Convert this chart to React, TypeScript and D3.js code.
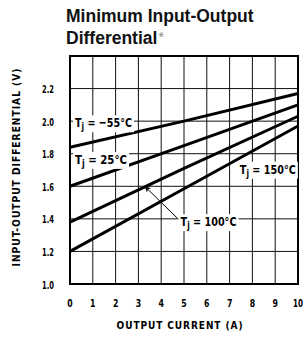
import { useEffect, useRef } from "react";
import * as d3 from "d3";

// Output current (A) sample points
const current = [0, 5, 10];

// Input-output differential (V) per junction temperature
const seriesM55 = [1.84, 2.0, 2.17];
const series25 = [1.6, 1.85, 2.1];
const series100 = [1.38, 1.71, 2.03];
const series150 = [1.2, 1.585, 1.97];

const xTicks = [0, 1, 2, 3, 4, 5, 6, 7, 8, 9, 10];
const yTicks = [1.0, 1.2, 1.4, 1.6, 1.8, 2.0, 2.2];

// curve labels: temperature, anchor current, anchor voltage, label width
const labels: { temp: string; x: number; y: number; w: number }[] = [
  { temp: "\u221255\u00b0C", x: 0.22, y: 1.99, w: 57 },
  { temp: "25\u00b0C", x: 0.22, y: 1.765, w: 52 },
  { temp: "150\u00b0C", x: 7.45, y: 1.705, w: 56 },
  { temp: "100\u00b0C", x: 4.85, y: 1.383, w: 56 },
];

const COND = "'DejaVu Sans Condensed', 'DejaVu Sans', sans-serif";

type Sel = d3.Selection<SVGGElement, unknown, null, undefined>;

// draw a text squeezed horizontally to a target width
function squeezed(
  parent: Sel,
  x: number,
  y: number,
  w: number,
  size: number,
  anchor: "start" | "middle" | "end",
  build: (t: d3.Selection<SVGTextElement, unknown, null, undefined>) => void,
  bg = false
) {
  const wrap = parent.append("g");
  const t = wrap
    .append("text")
    .attr("font-family", COND)
    .attr("font-weight", "bold")
    .attr("font-size", size)
    .attr("fill", "#000")
    .attr("text-anchor", anchor);
  build(t);
  const nat = (t.node() as SVGTextElement).getBBox();
  const sx = w / nat.width;
  wrap.attr("transform", `translate(${x},${y}) scale(${sx},1)`);
  if (bg) {
    wrap
      .insert("rect", "text")
      .attr("x", nat.x - 2 / sx)
      .attr("y", nat.y)
      .attr("width", nat.width + 4 / sx)
      .attr("height", nat.height)
      .attr("fill", "#fff");
  }
  return wrap;
}

export default function App() {
  const svgRef = useRef<SVGSVGElement>(null);

  useEffect(() => {
    if (!svgRef.current) return;
    const width = 304;
    const height = 337;
    const margin = { top: 56, right: 6, bottom: 53, left: 70 };

    const svg = d3.select(svgRef.current);
    svg.selectAll("*").remove();
    const root = svg.append("g") as unknown as Sel;

    const x = d3.scaleLinear().domain([0, 10]).range([margin.left, width - margin.right]);
    const y = d3.scaleLinear().domain([1.0, 2.4]).range([height - margin.bottom, margin.top]);

    // ── Title ──
    const title = root
      .append("text")
      .attr("x", 66)
      .attr("y", 22)
      .attr("font-family", "'Liberation Sans', Arial, sans-serif")
      .attr("font-weight", "bold")
      .attr("font-size", 17.5)
      .attr("fill", "#111");
    title.append("tspan").attr("x", 66).text("Minimum Input-Output");
    title.append("tspan").attr("x", 66).attr("dy", 21.5).text("Differential");
    title
      .append("tspan")
      .attr("fill", "#888")
      .attr("font-weight", "normal")
      .attr("font-size", 14)
      .attr("dx", 1)
      .attr("dy", -2)
      .text("*");

    // ── Grid ──
    const g = root.append("g") as unknown as Sel;
    g.selectAll(".vgrid")
      .data(xTicks.slice(1, -1))
      .enter()
      .append("line")
      .attr("x1", (d) => x(d))
      .attr("x2", (d) => x(d))
      .attr("y1", y(2.4))
      .attr("y2", y(1.0))
      .attr("stroke", "#111")
      .attr("stroke-width", 1);
    g.selectAll(".hgrid")
      .data(yTicks.slice(1))
      .enter()
      .append("line")
      .attr("x1", x(0))
      .attr("x2", x(10))
      .attr("y1", (d) => y(d))
      .attr("y2", (d) => y(d))
      .attr("stroke", "#111")
      .attr("stroke-width", 1);

    // ── Curves ──
    const line = d3
      .line<number>()
      .x((_, i) => x(current[i]))
      .y((d) => y(d));
    [seriesM55, series25, series100, series150].forEach((s) => {
      g.append("path")
        .datum(s)
        .attr("fill", "none")
        .attr("stroke", "#000")
        .attr("stroke-width", 3)
        .attr("d", line);
    });

    // ── Frame ──
    g.append("rect")
      .attr("x", x(0))
      .attr("y", y(2.4))
      .attr("width", x(10) - x(0))
      .attr("height", y(1.0) - y(2.4))
      .attr("fill", "none")
      .attr("stroke", "#000")
      .attr("stroke-width", 2);

    // ── Arrow for 100°C ──
    svg
      .append("defs")
      .append("marker")
      .attr("id", "arr")
      .attr("viewBox", "0 0 10 10")
      .attr("refX", 10)
      .attr("refY", 5)
      .attr("markerWidth", 10)
      .attr("markerHeight", 6)
      .attr("markerUnits", "userSpaceOnUse")
      .attr("orient", "auto")
      .append("path")
      .attr("d", "M0,0 L10,5 L0,10 L3,5 Z")
      .attr("fill", "#000");
    g.append("line")
      .attr("x1", x(4.7))
      .attr("y1", y(1.405))
      .attr("x2", x(3.28))
      .attr("y2", y(1.6))
      .attr("stroke", "#000")
      .attr("stroke-width", 1)
      .attr("marker-end", "url(#arr)");

    // ── Curve labels ──
    labels.forEach((l) => {
      squeezed(
        g,
        x(l.x),
        y(l.y) + 4.5,
        l.w,
        13,
        "start",
        (t) => {
          t.append("tspan").text("T");
          t.append("tspan").attr("font-size", 10).attr("dy", 3).text("j");
          t.append("tspan").attr("dy", -3).text(" = " + l.temp);
        },
        true
      );
    });

    // ── Tick labels ──
    yTicks.forEach((d) => {
      squeezed(root, 54, y(d) + 4.5, 12, 11, "end", (t) => {
        t.text(d3.format(".1f")(d));
      });
    });
    xTicks.forEach((d) => {
      squeezed(root, x(d), 307, d === 10 ? 10 : 5.5, 11, "middle", (t) => {
        t.text(String(d));
      });
    });

    // ── Axis titles ──
    squeezed(root, 180, 329, 127, 11, "middle", (t) => {
      t.attr("letter-spacing", 1).text("OUTPUT CURRENT (A)");
    });

    const yt = root.append("g").attr("transform", "translate(20,167) rotate(-90)") as unknown as Sel;
    squeezed(yt, 0, 0, 199, 11, "middle", (t) => {
      t.attr("letter-spacing", 1).text("INPUT-OUTPUT DIFFERENTIAL (V)");
    });
  }, []);

  return (
    <svg
      ref={svgRef}
      width={304}
      height={337}
      style={{ position: "absolute", left: 0, top: 0, background: "#fff" }}
    />
  );
}
